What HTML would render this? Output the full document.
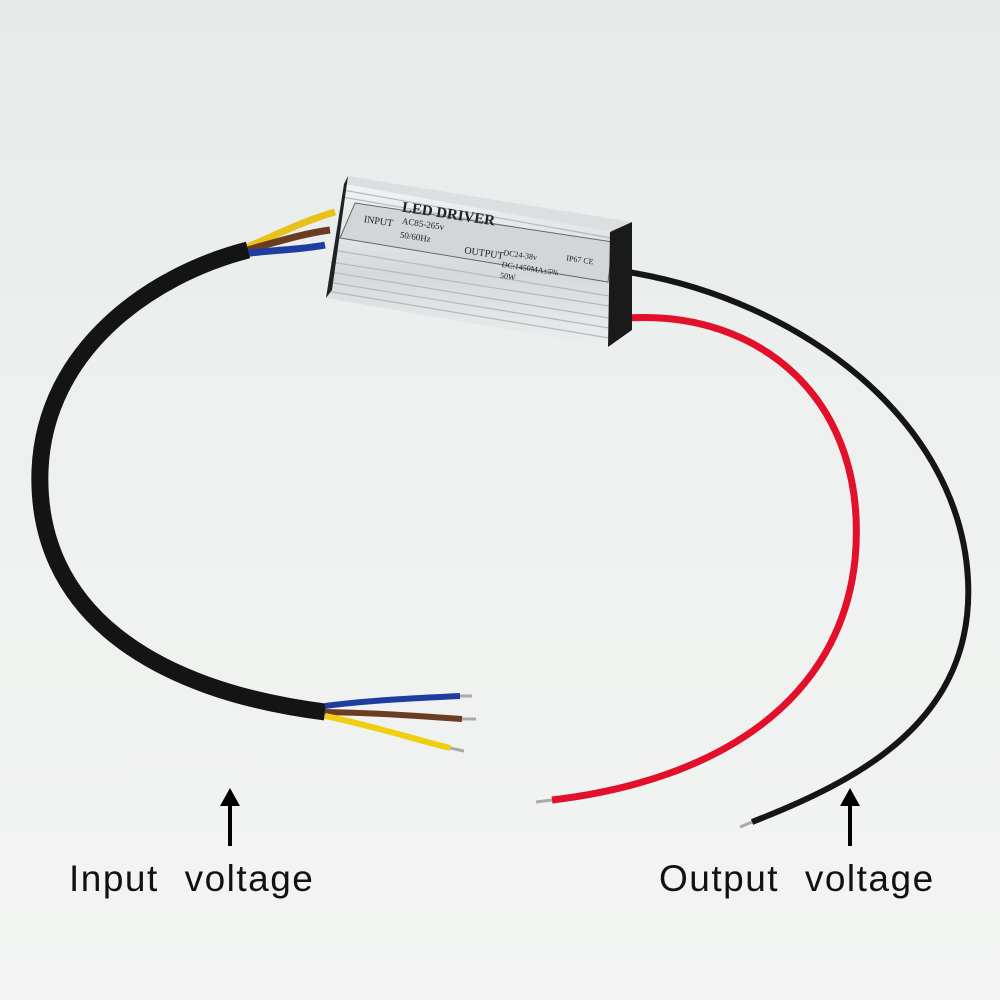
<!DOCTYPE html>
<html><head><style>
html,body{margin:0;padding:0;}
body{width:1000px;height:1000px;overflow:hidden;background:linear-gradient(#e6ebe9,#eef1ef 50%,#f3f4f3);font-family:"Liberation Sans",sans-serif;}
svg{position:absolute;left:0;top:0}
</style></head><body>
<svg width="1000" height="1000" viewBox="0 0 1000 1000">
<defs>
<linearGradient id="al" x1="0" y1="0" x2="0" y2="1">
<stop offset="0" stop-color="#f2f3f4"/><stop offset="0.55" stop-color="#d6d9dc"/><stop offset="1" stop-color="#eceeef"/></linearGradient>
</defs>
<path d="M240,250 C270,238 300,222 335,212" stroke="#e8c21a" stroke-width="7" fill="none"/>
<path d="M240,252 C270,244 300,234 330,230" stroke="#6b3c22" stroke-width="7" fill="none"/>
<path d="M242,254 C270,250 300,250 325,245" stroke="#1f3da0" stroke-width="7" fill="none"/>
<path d="M325,712 C150,690 35,610 40,470 C45,350 150,275 248,250" stroke="#141414" stroke-width="17" fill="none"/>
<path d="M325,706 C370,700 420,698 460,696" stroke="#1f3da0" stroke-width="6" fill="none"/>
<path d="M460,696 L472,696" stroke="#aaa" stroke-width="3"/>
<path d="M325,712 C380,713 420,716 462,719" stroke="#6b3c22" stroke-width="6" fill="none"/>
<path d="M462,719 L476,719" stroke="#aaa" stroke-width="3"/>
<path d="M325,716 C370,725 410,738 450,748" stroke="#f0cf10" stroke-width="6" fill="none"/>
<path d="M450,748 L464,751" stroke="#aaa" stroke-width="3"/>
<path d="M628,272 C800,300 960,420 968,580 C975,720 860,780 752,822" stroke="#151515" stroke-width="6" fill="none"/>
<path d="M752,822 L740,827" stroke="#aaa" stroke-width="3"/>
<path d="M628,318 C760,310 870,400 855,560 C840,700 720,780 552,800" stroke="#e2102a" stroke-width="7" fill="none"/>
<path d="M552,800 L536,802" stroke="#aaa" stroke-width="3"/>
<!-- driver -->
<polygon points="348,176 632,222 612,232 344,184" fill="#dcdfe2"/>
<polygon points="344,184 612,232 608,347 326,298" fill="url(#al)"/>
<g stroke="#b5b9bd" stroke-width="1.2">
<line x1="343" y1="190" x2="611" y2="238"/><line x1="342" y1="197" x2="611" y2="244"/>
<line x1="333" y1="250" x2="609" y2="296"/><line x1="331" y1="262" x2="609" y2="306"/>
<line x1="330" y1="272" x2="609" y2="318"/><line x1="328" y1="282" x2="609" y2="328"/>
<line x1="327" y1="291" x2="609" y2="338"/>
</g>
<polygon points="355,203 613,242 608,282 340,238" fill="#d3d6d9" stroke="#666" stroke-width="1"/>
<polygon points="344,184 348,176 332,290 326,298" fill="#222"/>
<polygon points="610,232 632,222 632,330 608,347" fill="#1a1a1a"/>
<g font-family="Liberation Serif,serif" fill="#222" transform="rotate(8.5 470 240)">
<text x="398" y="222" font-size="15" font-weight="bold">LED DRIVER</text>
<text x="362" y="238" font-size="10">INPUT</text>
<text x="400" y="234" font-size="9">AC85-265v</text>
<text x="400" y="248" font-size="9">50/60Hz</text>
<text x="466" y="254" font-size="10">OUTPUT</text>
<text x="505" y="250" font-size="8">DC24-38v</text>
<text x="505" y="262" font-size="8">DC:1450MA±5%</text>
<text x="505" y="273" font-size="8">50W</text>
<text x="568" y="246" font-size="8">IP67 CE</text>
</g>
<g stroke="#000" stroke-width="4" fill="none">
<line x1="230" y1="800" x2="230" y2="846"/><line x1="850" y1="800" x2="850" y2="846"/>
</g>
<polygon points="230,788 220,806 240,806" fill="#000"/>
<polygon points="850,788 840,806 860,806" fill="#000"/>
<text x="69" y="891" font-size="37" fill="#111" letter-spacing="1.5" word-spacing="14">Input voltage</text>
<text x="659" y="891" font-size="37" fill="#111" letter-spacing="1.5" word-spacing="14">Output voltage</text>
</svg>
</body></html>
